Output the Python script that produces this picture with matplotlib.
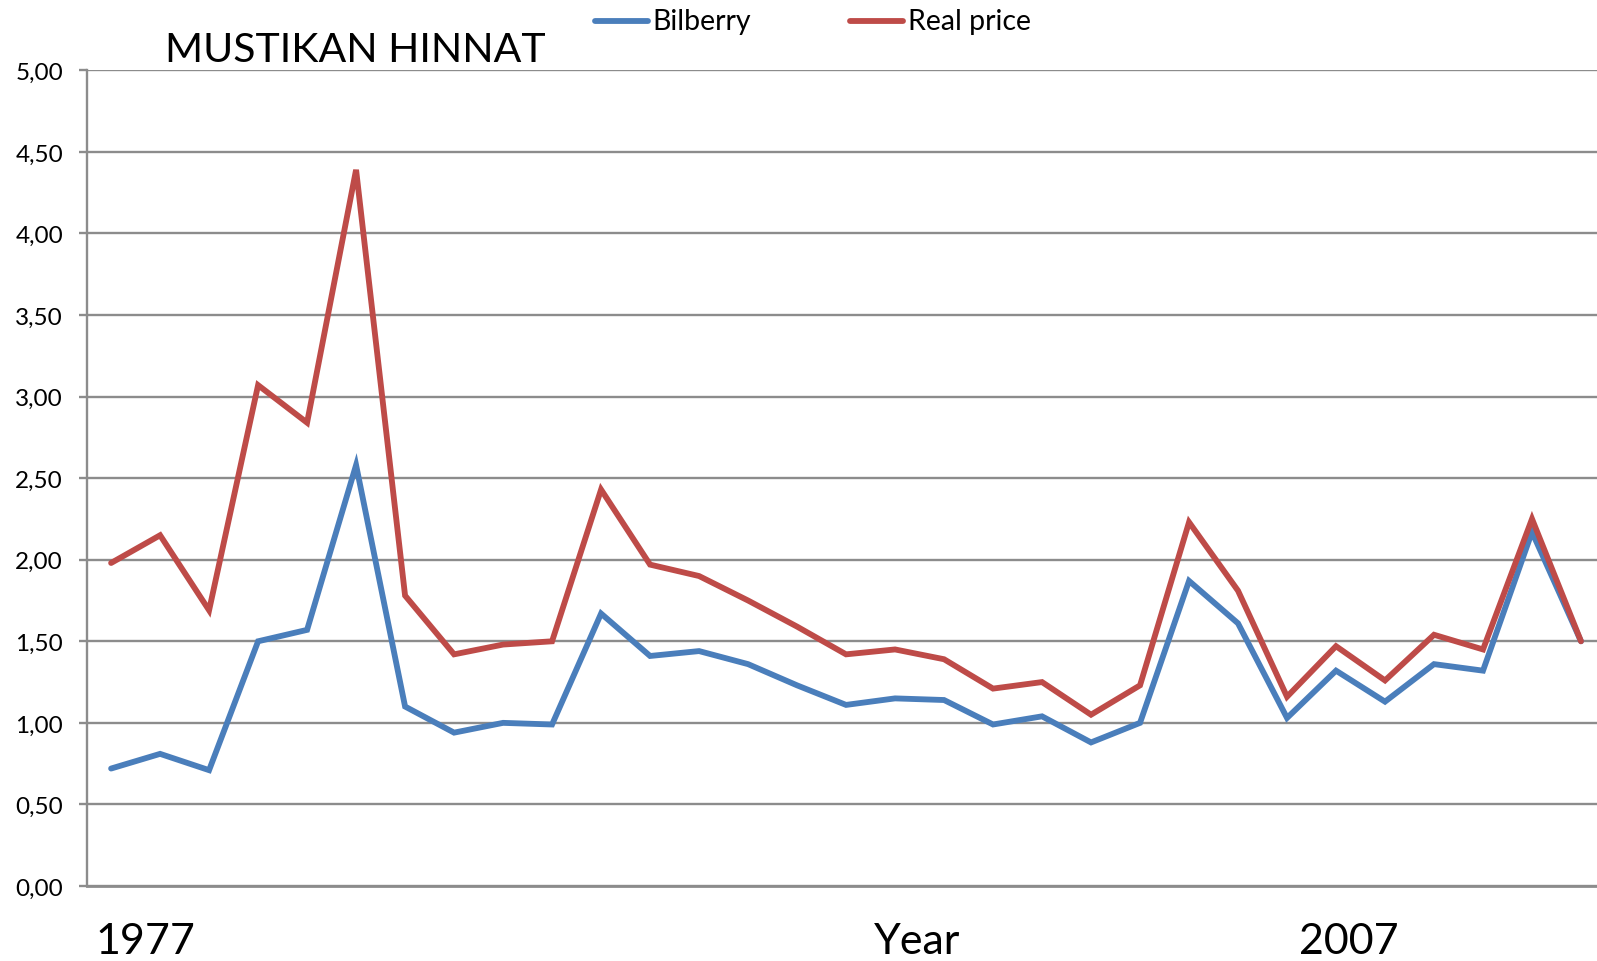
import matplotlib
matplotlib.use("Agg")
import matplotlib.pyplot as plt
from matplotlib.lines import Line2D
from matplotlib.ticker import FuncFormatter, MultipleLocator

years = list(range(1977, 2008))
bilberry = [0.72, 0.81, 0.71, 1.50, 1.57, 2.58, 1.10, 0.94, 1.00, 0.99,
            1.67, 1.41, 1.44, 1.36, 1.23, 1.11, 1.15, 1.14, 0.99, 1.04,
            0.88, 1.00, 1.87, 1.61, 1.03, 1.32, 1.13, 1.36, 1.32, 2.17, 1.50]
real_price = [1.98, 2.15, 1.69, 3.07, 2.84, 4.39, 1.78, 1.42, 1.48, 1.50,
              2.43, 1.97, 1.90, 1.75, 1.59, 1.42, 1.45, 1.39, 1.21, 1.25,
              1.05, 1.23, 2.23, 1.81, 1.16, 1.47, 1.26, 1.54, 1.45, 2.25, 1.50]
series_names = ["Bilberry", "Real price"]
title = "MUSTIKAN HINNAT"
bottom_labels = ["1977", "Year", "2007"]

plt.rcParams['font.family'] = ['Lato', 'DejaVu Sans']

W, H = 1597, 962
fig = plt.figure(figsize=(W / 100, H / 100), dpi=100)
left = 86.6 / W
bottom = (H - 887) / H
top = 71.3 / H
width = (1605.5 - 86.6) / W
height = 1 - top - bottom
ax = fig.add_axes([left, bottom, width, height])

blue = "#4A7EBB"
red = "#BE4B48"
grid_c = "#8C8C8C"

x = list(range(len(years)))
ax.plot(x, bilberry, color=blue, lw=4.2, solid_joinstyle='miter', solid_capstyle='round', zorder=3)
ax.plot(x, real_price, color=red, lw=4.2, solid_joinstyle='miter', solid_capstyle='round', zorder=4)

ax.set_xlim(-0.5, len(years) - 0.5)
ax.set_ylim(0, 5)
ax.yaxis.set_major_locator(MultipleLocator(0.5))
ax.yaxis.set_major_formatter(FuncFormatter(lambda v, p: f"{v:.2f}".replace('.', ',')))
ax.set_xticks([])
ax.grid(axis='y', color=grid_c, lw=1.7, zorder=1)
for s in ['top', 'right', 'bottom']:
    ax.spines[s].set_visible(False)
ax.spines['left'].set_color(grid_c)
ax.spines['left'].set_linewidth(1.7)
ax.spines['left'].set_zorder(2)
ax.tick_params(axis='y', length=6, width=1.7, color=grid_c, pad=11, labelsize=17.5)
ax.axhline(0, color=grid_c, lw=2.0, zorder=2, clip_on=False)

# Title
fig.text(165 / W, 1 - 51 / H, title, fontsize=29.5, ha='left', va='center')

# Legend (manual, Excel style at top)
ly = 1 - 22.4 / H
for (x0, x1, tx), name, c in zip([(595, 648, 652), (850, 903, 908)], series_names, [blue, red]):
    fig.add_artist(Line2D([x0 / W, x1 / W], [ly, ly], color=c, lw=4.2, solid_capstyle='round',
                          transform=fig.transFigure))
    fig.text(tx / W, ly, name, fontsize=20.5, ha='left', va='center')

# Bottom labels
for lx, lab in zip([95, 874, 1299], bottom_labels):
    fig.text(lx / W, 1 - 942 / H, lab, fontsize=31, ha='left', va='center')

fig.savefig("out.png", dpi=100)
